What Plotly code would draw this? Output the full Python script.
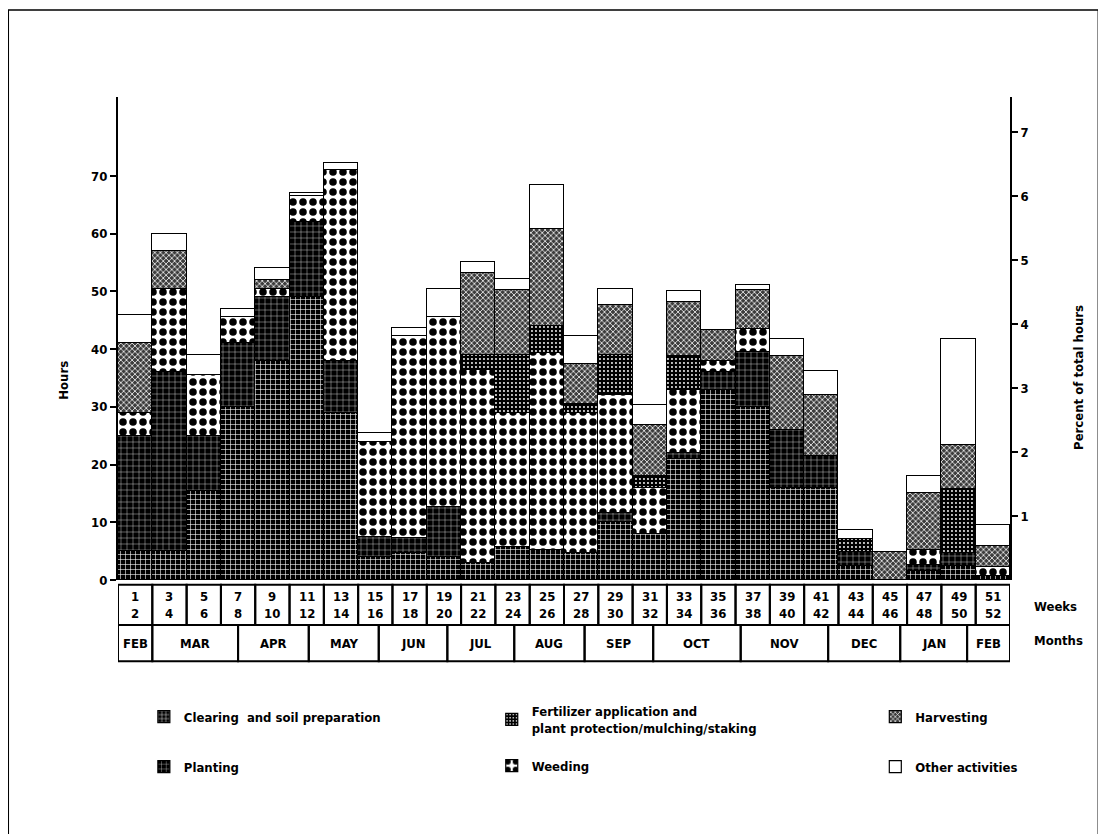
import plotly.graph_objects as go

# fortnight periods (weeks 1-2 ... 51-52)
week_labels = [f"{2 * i + 1}<br>{2 * i + 2}" for i in range(26)]
months = ["FEB", "MAR", "APR", "MAY", "JUN", "JUL", "AUG", "SEP", "OCT", "NOV", "DEC", "JAN", "FEB"]
month_edges = [0, 1, 3.5, 5.56, 7.6, 9.6, 11.55, 13.6, 15.6, 18.15, 20.7, 22.8, 24.75, 26]

# hours per fortnight
clearing = [5, 5, 15.5, 30, 38, 49, 29, 4, 4.7, 4, 3, 5.7, 5.2, 4.7, 10, 8, 21, 33, 30, 16, 16, 2.4, 0, 1.5, 2.5, 0.7]
planting = [20, 31, 9.5, 11, 11, 13, 9, 3.5, 2.5, 8.7, 0, 0, 0, 0, 1.6, 0, 1, 3, 9.5, 10, 5.5, 2.5, 0, 1.1, 2.2, 0]
weeding = [4, 14.5, 10.5, 4.5, 1.5, 4.5, 33, 16.5, 35, 32.9, 33.4, 23.3, 34.1, 24.3, 20.4, 8, 10.9, 2, 4, 0, 0, 0, 0, 2.6, 0, 1.6]
fertilizer = [0, 0, 0, 0, 0, 0, 0, 0, 0, 0, 2.6, 10, 4.8, 1.5, 7, 2, 5.9, 0, 0, 0, 0, 2.2, 0, 0, 11, 0]
harvesting = [12, 6.5, 0, 0, 1.5, 0, 0, 0, 0, 0, 14.2, 11.3, 16.7, 7, 8.7, 8.9, 9.4, 5.3, 6.8, 12.8, 10.5, 0, 4.8, 9.8, 7.7, 3.6]
other = [5, 3, 3.5, 1.5, 2, 0.5, 1.3, 1.5, 1.5, 4.8, 1.9, 1.9, 7.6, 4.8, 2.7, 3.4, 1.8, 0, 0.8, 3, 4.2, 1.6, 0, 3, 18.4, 3.6]

hours_top = 83.7
total_hours = sum(clearing) + sum(planting) + sum(weeding) + sum(fertilizer) + sum(harvesting) + sum(other)

FONT = "DejaVu Sans Condensed, Liberation Sans Narrow, Arial Narrow, sans-serif"
x = [i + 0.5 for i in range(len(week_labels))]

series = [
    ("Clearing  and soil preparation", clearing, "legend", 1,
     dict(shape="+", fgcolor="white", bgcolor="black", size=5, solidity=0.22)),
    ("Planting", planting, "legend", 2,
     dict(shape="+", fgcolor="white", bgcolor="black", size=6, solidity=0.12)),
    ("Weeding", weeding, "legend2", 2,
     dict(shape=".", fgcolor="black", bgcolor="white", size=10, solidity=0.45)),
    ("Fertilizer application and<br>plant protection/mulching/staking", fertilizer, "legend2", 1,
     dict(shape=".", fgcolor="white", bgcolor="black", size=4, solidity=0.18)),
    ("Harvesting", harvesting, "legend3", 1,
     dict(shape="x", fgcolor="white", bgcolor="#3c3c3c", size=4, solidity=0.35)),
    ("Other activities", other, "legend3", 2,
     dict(shape="", fgcolor="white", bgcolor="white", size=4, solidity=0.1)),
]

fig = go.Figure()
for name, vals, leg, rank, pat in series:
    fig.add_trace(go.Bar(
        x=x, y=vals, name=name, width=1,
        legend=leg, legendrank=rank, legendgroup=name,
        marker=dict(color="white", pattern=dict(fgopacity=1, **pat),
                    line=dict(color="black", width=1.2)),
    ))

# invisible trace so the percent axis is drawn
fig.add_trace(go.Scatter(x=[x[0]], y=[0], yaxis="y2", mode="markers",
                         marker=dict(opacity=0), showlegend=False, hoverinfo="skip"))

bold = dict(size=13, family=FONT, weight="bold", color="black")
shapes = []
annotations = []
# weeks row
for i, lab in enumerate(week_labels):
    shapes.append(dict(type="rect", xref="x", yref="paper", x0=i, x1=i + 1,
                       y0=-0.093, y1=-0.010, line=dict(color="black", width=2)))
    annotations.append(dict(x=i + 0.5, y=-0.052, xref="x", yref="paper", text=lab,
                            xanchor="center", yanchor="middle", showarrow=False, font=bold))
# months row
for j, m in enumerate(months):
    shapes.append(dict(type="rect", xref="x", yref="paper", x0=month_edges[j], x1=month_edges[j + 1],
                       y0=-0.168, y1=-0.093, line=dict(color="black", width=2)))
    annotations.append(dict(x=(month_edges[j] + month_edges[j + 1]) / 2, y=-0.131, xref="x", yref="paper",
                            text=m, xanchor="center", yanchor="middle", showarrow=False, font=bold))

annotations += [
    dict(x=1.025, y=-0.054, xref="paper", yref="paper", text="Weeks", showarrow=False,
         xanchor="left", yanchor="middle", font=bold),
    dict(x=1.025, y=-0.125, xref="paper", yref="paper", text="Months", showarrow=False,
         xanchor="left", yanchor="middle", font=bold),
    dict(x=-0.062, y=0.414, xref="paper", yref="paper", text="Hours", showarrow=False,
         xanchor="center", yanchor="middle", textangle=-90, font=bold),
    dict(x=1.076, y=0.42, xref="paper", yref="paper", text="Percent of total hours", showarrow=False,
         xanchor="center", yanchor="middle", textangle=-90, font=bold),
]

# outer frame of the figure
shapes.append(dict(type="rect", xref="paper", yref="paper", x0=-0.123, x1=1.099, y0=-0.56, y1=1.18,
                   line=dict(color="black", width=1.5)))


def legend_style(xpos, ypos, gap):
    return dict(x=xpos, y=ypos, orientation="v", xanchor="left", yanchor="top",
                traceorder="grouped", bgcolor="rgba(0,0,0,0)", tracegroupgap=gap,
                font=dict(size=13, family=FONT, weight="bold", color="black"))


fig.update_layout(
    width=1106, height=834,
    margin=dict(l=110, r=104, t=89, b=262),
    paper_bgcolor="white", plot_bgcolor="white",
    barmode="stack", bargap=0,
    showlegend=True,
    font=dict(family=FONT, color="black", size=13),
    xaxis=dict(range=[0, 26], showticklabels=False, showgrid=False, zeroline=False,
               showline=False, ticks="", fixedrange=True),
    yaxis=dict(range=[0, hours_top], tickvals=[0, 10, 20, 30, 40, 50, 60, 70],
               ticks="outside", ticklen=6, tickwidth=2, tickcolor="black",
               showline=True, linewidth=2, linecolor="black", showgrid=False, zeroline=False,
               tickfont=bold),
    yaxis2=dict(range=[0, hours_top * 100 / total_hours], overlaying="y", side="right",
                tickvals=[1, 2, 3, 4, 5, 6, 7], ticks="outside", ticklen=6, tickwidth=2,
                tickcolor="black", showline=True, linewidth=2, linecolor="black",
                showgrid=False, zeroline=False, tickfont=bold),
    legend=legend_style(0.029, -0.252, 30),
    legend2=legend_style(0.419, -0.240, 18),
    legend3=legend_style(0.849, -0.252, 30),
    shapes=shapes,
    annotations=annotations,
)

fig.write_html("out.html")
